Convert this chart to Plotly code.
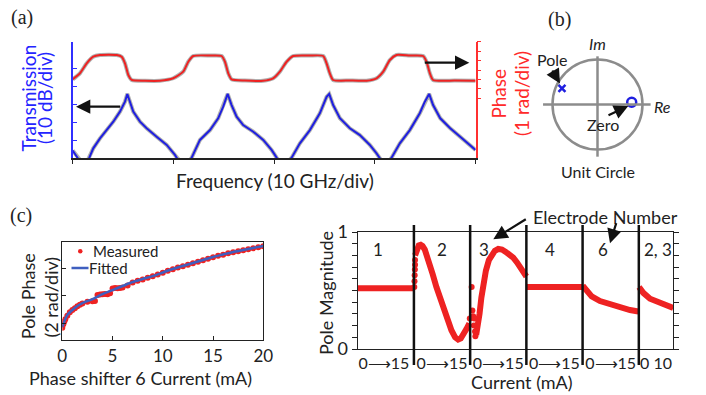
import plotly.graph_objects as go

W, H = 706, 395
def PX(x): return x / W
def PY(y): return 1 - y / H

FONT = "Lato, 'Open Sans', sans-serif"
BLUE = "#1f1fe0"
RED = "#ee2222"
GRAY = "rgba(125,125,125,0.6)"

# ---------------- (a) transmission / phase vs frequency ----------------
freq_t = [0.0, 0.33, 0.58, 0.82, 1.12, 1.42, 1.65, 2.04, 2.71, 3.37, 4.03, 4.69, 5.19, 5.42,
          5.68, 6.01, 6.68, 7.34, 8.33, 9.33, 10.15, 10.32, 10.65, 11.04, 11.44, 11.81,
          12.63, 13.63, 14.44, 14.94, 15.38, 15.77, 16.27, 16.92, 17.92, 18.91, 19.74,
          20.24, 20.76, 21.26, 21.73, 22.55, 23.54, 24.53, 25.20, 25.46, 25.85, 26.52,
          27.51, 28.50, 29.49, 30.16, 30.49, 30.88, 31.28, 31.65, 32.47, 33.46, 34.45,
          34.95, 35.38, 35.77, 36.48, 37.47, 38.46, 39.45, 39.98]
trans_db = [-55.8, -58.3, -60.0, -62.8, -63.9, -62.2, -59.8, -54.6, -49.0, -44.4, -39.7, -34.1,
            -28.5, -24.2, -28.5, -34.1, -39.7, -43.4, -48.1, -52.7, -58.3, -59.8, -62.8,
            -64.5, -62.8, -59.8, -49.9, -44.4, -37.8, -31.3, -24.2, -30.4, -36.9, -41.6,
            -45.3, -49.9, -55.5, -59.8, -63.9, -62.8, -59.8, -51.8, -44.4, -35.0, -25.8,
            -24.2, -30.4, -37.8, -43.4, -47.2, -52.7, -57.4, -59.8, -63.4, -62.8, -59.8,
            -51.8, -44.4, -35.0, -28.5, -24.2, -30.4, -37.8, -43.4, -48.1, -52.7, -55.5]

freq_p = [0.0, 0.72, 1.39, 2.04, 2.71, 4.37, 4.86, 5.19, 5.52, 5.85, 7.17, 8.66, 9.98, 10.97,
          11.47, 11.96, 13.62, 14.78, 15.11, 15.44, 15.77, 17.09, 18.91, 19.90, 20.56, 21.23,
          21.88, 23.54, 24.86, 25.20, 25.52, 25.85, 27.51, 29.17, 30.16, 30.82, 31.48, 32.14,
          33.46, 34.78, 35.12, 35.45, 35.77, 37.93, 39.98]
phase_rad = [8.02, 8.66, 9.72, 10.43, 10.61, 10.61, 10.43, 9.72, 8.48, 7.95, 7.87, 7.87, 8.13,
             8.83, 9.89, 10.50, 10.55, 10.50, 9.89, 8.66, 8.02, 7.89, 7.87, 8.13, 8.83, 9.89,
             10.50, 10.55, 10.50, 9.72, 8.66, 7.95, 7.89, 7.87, 8.13, 8.83, 10.07, 10.61,
             10.55, 10.50, 9.89, 8.66, 7.95, 7.89, 7.87]

x_ticks_a = [0, 10, 20, 30, 40]
t_ticks = [-50, -40, -30, -20, -10]
p_ticks = [6, 7, 8, 9, 10, 11, 12]

# ---------------- (b) pole / zero ----------------
pole_re, pole_im = [-0.79], [0.36]
zero_re, zero_im = [0.76], [0.05]

# ---------------- (c) left: pole phase vs current ----------------
fit_i = [0, 0.25, 0.5, 1, 1.5, 2, 3, 4, 5, 6, 7, 8, 9, 10, 11, 12, 13, 14, 15, 16, 17, 18, 19, 20]
fit_ph = [1.76, 2.27, 2.63, 2.99, 3.28, 3.49, 3.78, 4.14, 4.43, 4.72, 5.01, 5.23, 5.44, 5.70,
          5.95, 6.17, 6.38, 6.60, 6.82, 7.00, 7.18, 7.32, 7.47, 7.61]
meas_i = [0, 0.1, 0.2, 0.3, 0.5, 0.75, 1.0, 1.25, 1.5, 1.75, 2.0, 2.5, 3.0, 3.25, 3.5, 3.75,
          4.0, 4.25, 4.5, 4.75, 5.0, 5.25, 5.5, 5.75, 6.0, 6.5, 7.0, 7.5, 8.0, 8.5, 9.0, 9.5,
          10.0, 10.5, 11.0, 11.5, 12.0, 12.5, 13.0, 13.5, 14.0, 14.5, 15.0, 15.5, 16.0, 16.5,
          17.0, 17.5, 18.0, 18.5, 19.0, 19.5, 20.0]
meas_ph = [1.70, 1.95, 2.15, 2.32, 2.58, 2.82, 2.98, 3.12, 3.25, 3.36, 3.46, 3.58, 3.62, 3.64,
           4.08, 4.10, 4.12, 4.15, 4.12, 4.20, 4.55, 4.58, 4.56, 4.58, 4.62, 4.75, 4.98, 5.10,
           5.20, 5.32, 5.42, 5.55, 5.68, 5.82, 5.93, 6.05, 6.15, 6.26, 6.36, 6.47, 6.58, 6.70,
           6.80, 6.90, 6.98, 7.08, 7.16, 7.24, 7.31, 7.38, 7.45, 7.52, 7.60]
c_xticks = [0, 5, 10, 15, 20]
c_yticks = [2, 4, 6]

# ---------------- (c) right: pole magnitude vs electrode current ----------------
seg_x = [0, 5, 10, 15, None,
         15.3, 15.8, 16.3, 16.8, 17.3, 17.9, 18.5, 19.2, 20.0, 21.0, 22.0, 23.0, 24.0, 25.0,
         26.0, 26.8, 27.5, 28.2, 29.0, 29.8, None,
         31.6, 32.0, 32.5, 33.0, 33.5, 34.2, 35.0, 35.8, 36.6, 37.5, 38.5, 39.5, 40.5, 41.5,
         42.5, 43.5, 44.5, 45.0, None,
         45, 50, 55, 60, None,
         60.03, 61.1, 62.43, 64.65, 67.32, 69.99, 72.65, 74.87, None,
         75.05, 76.2, 77.99, 80.2, 82.45, 84.2]
seg_mag = [0.52, 0.52, 0.52, 0.52, None,
           0.80, 0.86, 0.885, 0.89, 0.88, 0.85, 0.80, 0.73, 0.64, 0.53, 0.43, 0.33, 0.24, 0.16,
           0.10, 0.08, 0.09, 0.12, 0.17, 0.22, None,
           0.12, 0.18, 0.30, 0.44, 0.56, 0.67, 0.76, 0.81, 0.84, 0.855, 0.85, 0.83, 0.81, 0.78,
           0.74, 0.70, 0.65, 0.62, None,
           0.53, 0.53, 0.53, 0.53, None,
           0.54, 0.49, 0.45, 0.41, 0.38, 0.356, 0.333, 0.32, None,
           0.53, 0.48, 0.43, 0.40, 0.36, 0.35]
scat_x = [15.1, 15.15, 15.2, 15.25, 15.3, 15.3, 29.9, 30.4, 30.6, 30.8, 31.0, 31.1, 31.3, 31.4]
scat_mag = [0.53, 0.58, 0.63, 0.68, 0.72, 0.76, 0.26, 0.53, 0.33, 0.28, 0.20, 0.26, 0.15, 0.11]
seg_bounds = [15, 30, 45, 60, 75]
seg_centers = [7.0, 22.5, 37.5, 52.5, 67.5, 79.6]
seg_ticktext = ["0⟶15", "0⟶15", "0⟶15", "0⟶15", "0⟶15", "0 10"]
electrodes = ["1", "2", "3", "4", "6", "2, 3"]
electrode_px = [378, 442, 484, 550, 603, 658]
mag_ticks = [0, 0.1, 0.2, 0.3, 0.4, 0.5, 0.6, 0.7, 0.8, 0.9, 1.0]
mag_ticktext = ["0", "", "", "", "", "", "", "", "", "", "1"]

fig = go.Figure()

# (a)
fig.add_trace(go.Scatter(x=freq_t, y=trans_db, mode="lines", line=dict(color=GRAY, width=4),
                         xaxis="x", yaxis="y", hoverinfo="skip"))
fig.add_trace(go.Scatter(x=freq_t, y=trans_db, mode="lines", line=dict(color=BLUE, width=2),
                         xaxis="x", yaxis="y"))
fig.add_trace(go.Scatter(x=freq_p, y=phase_rad, mode="lines", line=dict(color=GRAY, width=4, shape="spline", smoothing=0.6),
                         xaxis="x", yaxis="y2", hoverinfo="skip"))
fig.add_trace(go.Scatter(x=freq_p, y=phase_rad, mode="lines", line=dict(color=RED, width=2, shape="spline", smoothing=0.6),
                         xaxis="x", yaxis="y2"))
# (b)
fig.add_trace(go.Scatter(x=pole_re, y=pole_im, mode="markers", xaxis="x3", yaxis="y3",
                         marker=dict(symbol="x-thin", size=7, color=BLUE, line=dict(width=2.5, color=BLUE))))
fig.add_trace(go.Scatter(x=zero_re, y=zero_im, mode="markers", xaxis="x3", yaxis="y3",
                         marker=dict(symbol="circle-open", size=9, color=BLUE, line=dict(width=2.5, color=BLUE))))
# (c) left
fig.add_trace(go.Scatter(x=meas_i, y=meas_ph, mode="markers", xaxis="x4", yaxis="y4",
                         marker=dict(size=6, color=RED)))
fig.add_trace(go.Scatter(x=fit_i, y=fit_ph, mode="lines", xaxis="x4", yaxis="y4",
                         line=dict(color="#3f5fbf", width=2.5, shape="spline", smoothing=0.6)))
# (c) right
fig.add_trace(go.Scatter(x=seg_x, y=seg_mag, mode="lines", xaxis="x5", yaxis="y5",
                         line=dict(color=RED, width=6)))
fig.add_trace(go.Scatter(x=scat_x, y=scat_mag, mode="markers", xaxis="x5", yaxis="y5",
                         marker=dict(size=6, color=RED)))

base = dict(showgrid=False, zeroline=False, automargin=False)
fig.update_layout(
    template="none",
    width=W, height=H, margin=dict(l=0, r=0, t=0, b=0, pad=0, autoexpand=False),
    paper_bgcolor="white", plot_bgcolor="rgba(0,0,0,0)", showlegend=False,
    font=dict(family=FONT, size=17, color="#222"),
    xaxis=dict(domain=[PX(72.7), PX(475.7)], range=[0, 40], anchor="y", showline=True,
               linecolor="#222", linewidth=1.5, ticks="outside", ticklen=4, tickcolor="#222",
               tickvals=x_ticks_a, showticklabels=False, **base),
    yaxis=dict(domain=[PY(158), PY(41.7)], range=[-60, 5], anchor="x", showline=True,
               linecolor="#3030ff", linewidth=1.5, ticks="inside", ticklen=5, tickcolor="#3030ff",
               tickvals=t_ticks, showticklabels=False, **base),
    yaxis2=dict(overlaying="y", side="right", anchor="x", range=[-0.35, 12.02], showline=True,
                linecolor="#ff3030", linewidth=1.5, ticks="outside", ticklen=4, tickcolor="#ff3030",
                tickvals=p_ticks, showticklabels=False, **base),
    xaxis3=dict(domain=[PX(530), PX(670)], range=[-1.5, 1.611], anchor="y3", visible=False, **base),
    yaxis3=dict(domain=[PY(170), PY(40)], range=[-1.456, 1.433], anchor="x3", visible=False, **base),
    xaxis4=dict(domain=[PX(62.3), PX(263.3)], range=[0, 20], anchor="y4", showline=True, mirror=True,
                linecolor="#222", linewidth=1.2, ticks="inside", ticklen=4, tickcolor="#222",
                tickvals=c_xticks, tickangle=0, tickfont=dict(size=17), **base),
    yaxis4=dict(domain=[PY(340), PY(242.3)], range=[0.82, 7.88], anchor="x4", showline=True, mirror=True,
                linecolor="#222", linewidth=1.2, ticks="inside", ticklen=4, tickcolor="#222",
                tickvals=c_yticks, showticklabels=False, **base),
    xaxis5=dict(domain=[PX(357.7), PX(673.3)], range=[0, 84.2], anchor="y5", showline=True, mirror=True,
                linecolor="#222", linewidth=1.2, ticks="", tickvals=seg_centers, ticktext=seg_ticktext,
                tickangle=0, tickfont=dict(size=16), **base),
    yaxis5=dict(domain=[PY(349), PY(232)], range=[0, 1], anchor="x5", showline=True, mirror="ticks",
                linecolor="#222", linewidth=1.2, ticks="outside", ticklen=5, tickcolor="#222",
                tickvals=mag_ticks, ticktext=mag_ticktext, tickfont=dict(size=18), **base),
)

shapes = []
shapes.append(dict(type="circle", xref="x3", yref="y3", x0=-1, x1=1, y0=-1, y1=1,
                   line=dict(color="#8c8c8c", width=2.5)))
shapes.append(dict(type="line", xref="x3", yref="y3", x0=-1.21, x1=1.18, y0=0, y1=0,
                   line=dict(color="#8c8c8c", width=2.5)))
shapes.append(dict(type="line", xref="x3", yref="y3", x0=0, x1=0, y0=-1.16, y1=1.07,
                   line=dict(color="#8c8c8c", width=2.5)))
for b in seg_bounds:
    shapes.append(dict(type="line", xref="x5", yref="paper", x0=b, x1=b, y0=PY(365), y1=PY(225),
                       line=dict(color="#111", width=2.5)))
shapes.append(dict(type="circle", xref="paper", yref="paper", x0=PX(78), x1=PX(82.5),
                   y0=PY(253.5), y1=PY(249), fillcolor=RED, line=dict(width=0)))
shapes.append(dict(type="line", xref="paper", yref="paper", x0=PX(71.5), x1=PX(88.5),
                   y0=PY(268), y1=PY(268), line=dict(color="#3f5fbf", width=2.5)))
fig.update_layout(shapes=shapes)

ann = []
def txt(x, y, s, size=17, color="#222", angle=0, family=FONT, xanchor="center"):
    ann.append(dict(x=PX(x), y=PY(y), xref="paper", yref="paper", text=s, showarrow=False,
                    textangle=angle, xanchor=xanchor, yanchor="middle", borderpad=0,
                    font=dict(family=family, size=size, color=color)))
def arrow(hx, hy, tx, ty):
    ann.append(dict(x=PX(hx), y=PY(hy), xref="paper", yref="paper", text="", showarrow=True,
                    ax=tx - hx, ay=ty - hy, arrowhead=2, arrowsize=1.3, arrowwidth=2.2,
                    arrowcolor="#111", standoff=0))

SERIF = "'Liberation Serif', 'DejaVu Serif', serif"
txt(21.5, 17, "(a)", 20, family=SERIF)
txt(559, 19, "(b)", 20, family=SERIF)
txt(21, 215, "(c)", 20, family=SERIF)
txt(28, 98.5, "Transmission", 19, "#2424ff", -90)
txt(44.5, 98.5, "(10 dB/div)", 19, "#2424ff", -90)
txt(498.3, 93.3, "Phase", 19, "#ff2a2a", -90)
txt(521.7, 93.3, "(1 rad/div)", 19, "#ff2a2a", -90)
txt(275, 180, "Frequency (10 GHz/div)", 19)
txt(597, 43.5, "<i>Im</i>", 16)
txt(662, 106, "<i>Re</i>", 16)
txt(551.7, 59, "Pole", 16)
txt(603, 124.3, "Zero", 16)
txt(598.3, 171.7, "Unit Circle", 16)
txt(91.7, 250.5, "Measured", 15, xanchor="left")
txt(88.3, 268, "Fitted", 15, xanchor="left")
txt(27.5, 296.7, "Pole Phase", 18, angle=-90)
txt(50.8, 296.7, "(2 rad/div)", 18, angle=-90)
txt(140.8, 378.3, "Phase shifter 6 Current (mA)", 18)
txt(521.7, 381.7, "Current (mA)", 18)
txt(326.7, 293.3, "Pole Magnitude", 18, angle=-90)
for lab, xp in zip(electrodes, electrode_px):
    txt(xp, 249, lab, 17)
txt(605, 217, "Electrode Number", 18)

arrow(76, 106.7, 121.7, 106.7)
arrow(469.3, 62.7, 423.3, 62.7)
arrow(560, 83.5, 551.5, 69)
arrow(628.3, 106, 607, 116)
arrow(493.3, 239.3, 527.3, 218.3)
arrow(610, 243.3, 616.7, 221.7)
fig.update_layout(annotations=ann)

fig.write_html("out.html")
